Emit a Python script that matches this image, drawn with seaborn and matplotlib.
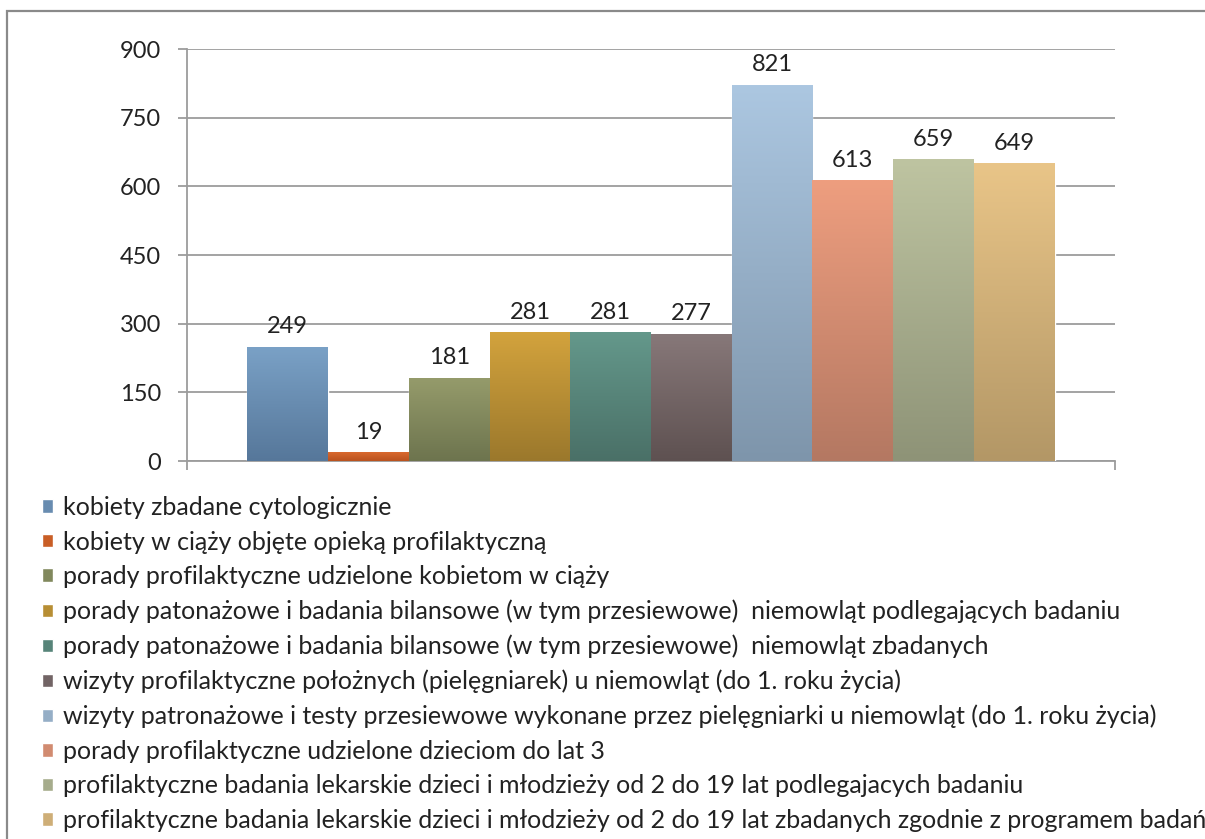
import numpy as np
import pandas as pd
import matplotlib
matplotlib.use("Agg")
import matplotlib.pyplot as plt
import matplotlib.colors as mcolors
from matplotlib.patches import Rectangle
import seaborn as sns

# dane
kategorie = [
    "kobiety zbadane cytologicznie",
    "kobiety w ciąży objęte opieką profilaktyczną",
    "porady profilaktyczne udzielone kobietom w ciąży",
    "porady patonażowe i badania bilansowe (w tym przesiewowe)  niemowląt podlegających badaniu",
    "porady patonażowe i badania bilansowe (w tym przesiewowe)  niemowląt zbadanych",
    "wizyty profilaktyczne położnych (pielęgniarek) u niemowląt (do 1. roku życia)",
    "wizyty patronażowe i testy przesiewowe wykonane przez pielęgniarki u niemowląt (do 1. roku życia)",
    "porady profilaktyczne udzielone dzieciom do lat 3",
    "profilaktyczne badania lekarskie dzieci i młodzieży od 2 do 19 lat podlegajacych badaniu",
    "profilaktyczne badania lekarskie dzieci i młodzieży od 2 do 19 lat zbadanych zgodnie z programem badań",
]
wartosci = [249, 19, 181, 281, 281, 277, 821, 613, 659, 649]
y_ticks = [0, 150, 300, 450, 600, 750, 900]

# kolory: gora / dol gradientu
top_colors = ["#7aa1c6", "#d9692e", "#959b6b", "#d3a33d", "#64988b", "#877879",
              "#acc7e1", "#ee9e7f", "#bec4a1", "#e9c588"]
bot_colors = ["#56779a", "#b9521f", "#6d744e", "#9b782c", "#4a7067", "#5e5151",
              "#7e95ab", "#b47862", "#8e9377", "#b39766"]
mid_colors = [mcolors.to_hex((np.array(mcolors.to_rgb(t)) + np.array(mcolors.to_rgb(b))) / 2)
              for t, b in zip(top_colors, bot_colors)]

df = pd.DataFrame({"grupa": ["" for _ in kategorie], "kategoria": kategorie, "wartosc": wartosci})

sns.set_theme(style="white")
plt.rcParams["font.family"] = ["Lato", "DejaVu Sans"]
txt_color = "#222222"
grid_color = "#9c9c9c"
fs = 17      # osie i etykiety
fs_leg = 18  # legenda

fig = plt.figure(figsize=(12.05, 8.39), dpi=100)
ax = fig.add_axes([187 / 1205, 1 - 461 / 839, (1115 - 187) / 1205, (461 - 49) / 839])

sns.barplot(data=df, x="grupa", y="wartosc", hue="kategoria", palette=mid_colors,
            width=0.87, dodge=True, saturation=1, legend=True, ax=ax, zorder=3)

# gradient na slupkach
for container, t, b in zip(ax.containers, top_colors, bot_colors):
    for bar in container:
        x, w, h = bar.get_x(), bar.get_width(), bar.get_height()
        grad = np.linspace(np.array(mcolors.to_rgb(t)), np.array(mcolors.to_rgb(b)), 256)[:, None, :]
        ax.imshow(grad, extent=[x, x + w, 0, h], origin="upper", aspect="auto",
                  interpolation="bilinear", zorder=3.5)
    ax.bar_label(container, padding=7, fontsize=fs, color=txt_color, zorder=5)

ax.set_xlim(-0.5, 0.5)
ax.set_ylim(0, 900)
ax.set_yticks(y_ticks)
ax.set_xticks([-0.5, 0.5], labels=["", ""])
ax.set_xlabel("")
ax.set_ylabel("")
ax.yaxis.grid(True, color=grid_color, linewidth=1.3, zorder=0)
ax.set_axisbelow(True)
for s in ["top", "right"]:
    ax.spines[s].set_visible(False)
for s in ["left", "bottom"]:
    ax.spines[s].set_color(grid_color)
    ax.spines[s].set_linewidth(1.3)
ax.tick_params(axis="y", direction="out", length=6.5, width=1.3, color=grid_color,
               pad=12, labelsize=fs, labelcolor=txt_color, left=True)
ax.tick_params(axis="x", direction="out", length=6.5, width=1.3, color=grid_color, bottom=True)

sns.move_legend(ax, loc="upper left", bbox_to_anchor=(42 / 1205, 1 - 496 / 839),
                bbox_transform=fig.transFigure, frameon=False, title=None,
                fontsize=fs_leg, handlelength=0.44, handleheight=0.44, handletextpad=0.4,
                labelspacing=0.46, borderaxespad=0, borderpad=0)
for t in ax.get_legend().get_texts():
    t.set_color(txt_color)

# ramka wykresu
fig.patches.append(Rectangle((7 / 1205, -0.05), 1.2, 1 - 11 / 839 + 0.05, transform=fig.transFigure,
                             fill=False, edgecolor="#8a8a8a", linewidth=1.6, zorder=10))

plt.savefig("out.png", dpi=100)
